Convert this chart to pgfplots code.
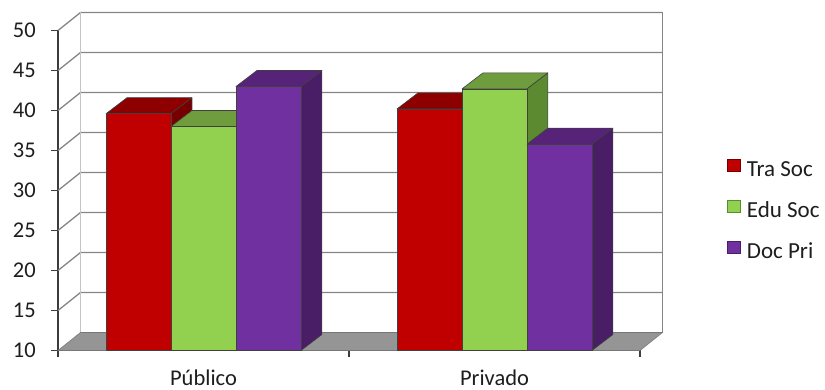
\documentclass[border=0pt]{standalone}
\usepackage{pgfplots}
\usepackage{pgfplotstable}
\pgfplotsset{compat=1.18}
\usepackage{fontspec}
\setmainfont{Carlito}

\definecolor{traF}{HTML}{C00000}
\definecolor{traT}{HTML}{8E0000}
\definecolor{traS}{HTML}{760000}
\definecolor{eduF}{HTML}{92D050}
\definecolor{eduT}{HTML}{6F9D3D}
\definecolor{eduS}{HTML}{5C8A30}
\definecolor{docF}{HTML}{7030A0}
\definecolor{docT}{HTML}{562378}
\definecolor{docS}{HTML}{4A1E66}
\definecolor{floorgray}{HTML}{959595}
\definecolor{gridgray}{HTML}{848484}
\definecolor{cornergray}{HTML}{C4C4C4}
\definecolor{axisgray}{HTML}{3C3C3C}
\definecolor{labelblack}{HTML}{1E1E1E}

% survey results per type of school
\pgfplotstableread{
x    tra   edu   doc
0.5  39.6  38.0  43.0
1.5  40.2  42.7  35.8
}\datatable

% geometry of the 3-D look (axis units)
\def\bw{0.2233}   % bar width
\def\bdx{0.072}   % bar depth, horizontal
\def\bdy{2.0}     % bar depth, vertical
\def\wdx{0.0773}  % wall depth, horizontal
\def\wdy{2.25}    % wall depth, vertical

\pgfplotsset{
  barface/.style={forget plot, mark=none, draw=black!75, line width=0.6pt, line join=round},
  wall/.style={forget plot, mark=none, draw=gridgray, line width=1.3pt},
}

% one 3-D column: #1 table row, #2 column, #3 slot in the cluster, #4 colour prefix
\newcommand\cube[4]{%
  \pgfplotstablegetelem{#1}{x}\of\datatable \let\cubex\pgfplotsretval
  \pgfplotstablegetelem{#1}{#2}\of\datatable \let\cubev\pgfplotsretval
  \pgfmathsetmacro\cubexa{\cubex+(#3-0.5)*\bw}%
  \pgfmathsetmacro\cubexb{\cubex+(#3+0.5)*\bw}%
  \pgfmathsetmacro\cubexc{\cubexa+\bdx}%
  \pgfmathsetmacro\cubexd{\cubexb+\bdx}%
  \pgfmathsetmacro\cubeyt{\cubev+\bdy}%
  \pgfmathsetmacro\cubeyb{10+\bdy}%
  \addplot[barface, fill=#4T] coordinates {(\cubexa,\cubev) (\cubexb,\cubev) (\cubexd,\cubeyt) (\cubexc,\cubeyt)} -- cycle;
  \addplot[barface, fill=#4S] coordinates {(\cubexb,10) (\cubexb,\cubev) (\cubexd,\cubeyt) (\cubexd,\cubeyb)} -- cycle;
  \addplot[barface, fill=#4F] coordinates {(\cubexa,10) (\cubexa,\cubev) (\cubexb,\cubev) (\cubexb,10)} -- cycle;
}

\begin{document}
\begin{tikzpicture}
\useasboundingbox (0,0) rectangle (825pt,390pt);
\begin{axis}[
  at={(58pt,39.5pt)}, anchor=south west,
  scale only axis, width=582pt, height=320pt,
  xmin=0, xmax=2, ymin=10, ymax=50,
  clip=false,
  axis lines*=left,
  axis line style={-, draw=axisgray, line width=1.3pt},
  xtick={0.5,1.5}, xticklabels={Público,Privado},
  minor xtick={0,1,2},
  ytick={10,15,...,50},
  tick align=outside,
  major tick length=7pt, minor tick length=7pt,
  tick style={draw=axisgray, line width=1.3pt},
  major x tick style={draw=none},
  tick label style={font=\fontsize{22.5}{27}\selectfont, text=labelblack},
  /pgf/number format/assume math mode=true,
  yticklabel style={inner sep=0pt, xshift=-15pt},
  xticklabel style={inner sep=0pt, yshift=-12pt},
  legend style={draw=none, fill=none, inner sep=0pt,
    at={(axis description cs:1.150,0.435)}, anchor=west,
    font=\fontsize{23}{27}\selectfont, text=labelblack,
    row sep=18.3pt,
    nodes={inner sep=0pt, text height=15pt, text depth=5pt},
    /tikz/every odd column/.append style={column sep=6pt}},
  legend cell align=left,
  legend image code/.code={\filldraw[#1] (0pt,0pt) rectangle (13pt,12.5pt);},
]
% floor
\addplot[forget plot, mark=none, fill=floorgray, draw=floorgray!80!black, line width=0.6pt]
  coordinates {(0,10) (2,10) (2+\wdx,10+\wdy) (\wdx,10+\wdy)} -- cycle;
% walls: gridlines on the side and back walls
\pgfplotsinvokeforeach{15,20,25,30,35,40,45,50}{%
  \pgfmathsetmacro\gy{#1+\wdy}%
  \pgfmathsetmacro\gxe{2+\wdx}%
  \addplot[wall] coordinates {(0,#1) (\wdx,\gy) (\gxe,\gy)};
}
\pgfmathsetmacro\gyb{10+\wdy}
\pgfmathsetmacro\gyt{50+\wdy}
\pgfmathsetmacro\gxe{2+\wdx}
\addplot[wall, draw=cornergray] coordinates {(\wdx,\gyb) (\wdx,\gyt)};
\addplot[wall] coordinates {(\gxe,\gyb) (\gxe,\gyt)};

% columns, series by series
\cube{0}{tra}{-1}{tra}
\cube{1}{tra}{-1}{tra}
\cube{0}{edu}{0}{edu}
\cube{1}{edu}{0}{edu}
\cube{0}{doc}{1}{doc}
\cube{1}{doc}{1}{doc}

\addlegendimage{fill=traF, draw=traS}
\addlegendentry{Tra Soc}
\addlegendimage{fill=eduF, draw=eduS}
\addlegendentry{Edu Soc}
\addlegendimage{fill=docF, draw=docS}
\addlegendentry{Doc Pri}
\end{axis}
\end{tikzpicture}
\end{document}
